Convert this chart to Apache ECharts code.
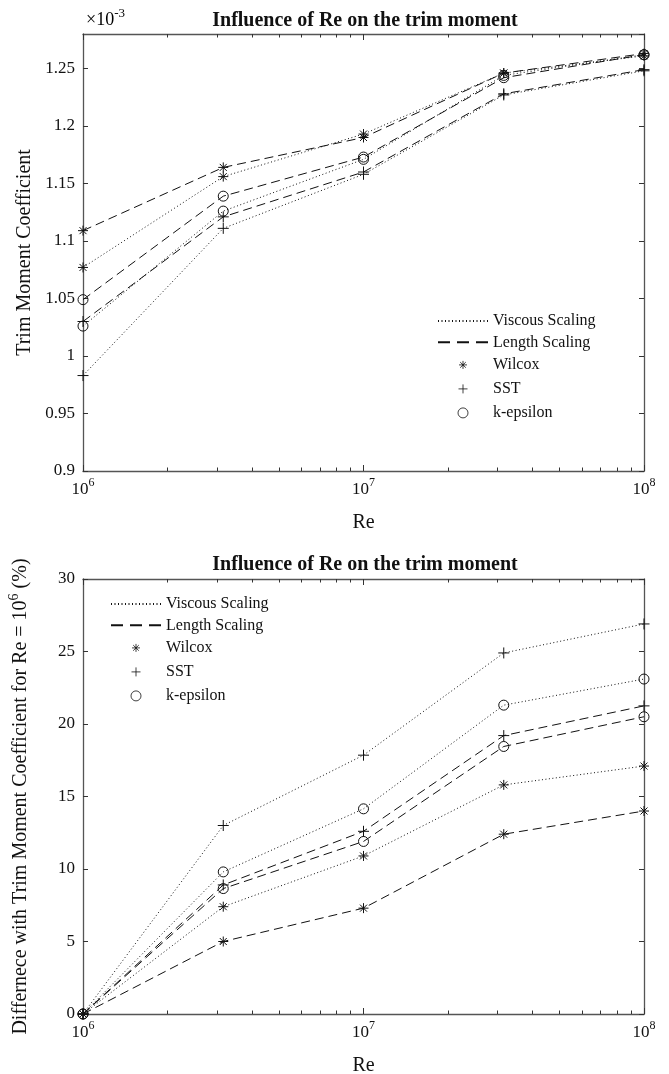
<!DOCTYPE html>
<html>
<head>
<meta charset="utf-8">
<script src="https://cdn.jsdelivr.net/npm/echarts@6/dist/echarts.min.js"></script>
<style>
html,body{margin:0;padding:0;background:#fff;}
#chart{width:669px;height:1074px;}
</style>
</head>
<body>
<div id="chart"></div>
<script>
// ---------- data ----------
const reValues = [1e6, 3.1623e6, 1e7, 3.1623e7, 1e8];
const minorTickValues = [2e6,3e6,4e6,5e6,6e6,7e6,8e6,9e6,2e7,3e7,4e7,5e7,6e7,7e7,8e7,9e7];
const legendNames = ['Viscous Scaling', 'Length Scaling', 'Wilcox', 'SST', 'k-epsilon'];

// Trim moment coefficient (x 1e-3)
const coefViscousWilcox = [1.077, 1.156, 1.193, 1.246, 1.261];
const coefViscousSST    = [0.983, 1.111, 1.158, 1.227, 1.248];
const coefViscousKeps   = [1.026, 1.126, 1.171, 1.244, 1.262];
const coefLengthWilcox  = [1.109, 1.164, 1.190, 1.246, 1.263];
const coefLengthSST     = [1.030, 1.121, 1.160, 1.228, 1.249];
const coefLengthKeps    = [1.049, 1.139, 1.173, 1.242, 1.262];

// Difference w.r.t. Re = 1e6 (%)
const diffViscousWilcox = [0, 7.4, 10.9, 15.8, 17.1];
const diffViscousSST    = [0, 13.0, 17.85, 24.9, 26.9];
const diffViscousKeps   = [0, 9.8, 14.15, 21.3, 23.1];
const diffLengthWilcox  = [0, 5.0, 7.3, 12.4, 14.0];
const diffLengthSST     = [0, 8.9, 12.6, 19.2, 21.25];
const diffLengthKeps    = [0, 8.65, 11.9, 18.45, 20.5];

const topYTicks = {min: 0.9, max: 1.28, interval: 0.05};
const botYTicks = {min: 0, max: 30, interval: 5};

// ---------- styles ----------
const SERIF = "'Liberation Serif', 'Times New Roman', serif";
const INK = '#111';
const AXIS = '#555';
const DOTTED = [1, 2.5];
const DASHED = [9, 5];

const SYM_STAR = 'path://M5,0L5,10M0,5L10,5M1.5,1.5L8.5,8.5M1.5,8.5L8.5,1.5';
const SYM_PLUS = 'path://M5,0L5,10M0,5L10,5';
const SYM_CIRC = 'circle';
// legend versions (padded bounding boxes so they render smaller)
const LEG_STAR = 'path://M0,0M14,14M7,3L7,11M3,7L11,7M4.2,4.2L9.8,9.8M4.2,9.8L9.8,4.2';
const LEG_PLUS = 'path://M0,0M14,14M7,2.5L7,11.5M2.5,7L11.5,7';
const LEG_CIRC = 'path://M0,0M14,14M12,7A5,5 0 1,1 2,7A5,5 0 1,1 12,7Z';

const markerStyle = {color: 'none', borderColor: INK, borderWidth: 1};

function supRich(base, sup) {
  return {
    b: {fontSize: base, fontFamily: SERIF, color: INK, verticalAlign: 'bottom'},
    s: {fontSize: sup, fontFamily: SERIF, color: INK, verticalAlign: 'bottom', padding: [0, 0, Math.round(base * 0.5), 0]}
  };
}

function xAxesFor(gi) {
  const common = {gridIndex: gi, splitLine: {show: false}};
  const line = {show: true, onZero: false, lineStyle: {color: AXIS, width: 1.3}};
  return [
    Object.assign({}, common, {
      type: 'log', logBase: 10, min: 1e6, max: 1e8, position: 'bottom',
      axisLine: line,
      axisTick: {show: true, inside: true, length: 6, lineStyle: {color: '#333'}},
      axisLabel: {
        margin: 6,
        formatter: v => '{b|10}{s|' + Math.round(Math.log10(v)) + '}',
        rich: supRich(17, 12)
      },
      name: 'Re', nameLocation: 'middle', nameGap: 42,
      nameTextStyle: {fontFamily: SERIF, fontSize: 20, color: INK}
    }),
    Object.assign({}, common, {
      type: 'log', logBase: 10, min: 1e6, max: 1e8, position: 'top',
      axisLine: line,
      axisTick: {show: true, inside: true, length: 6, lineStyle: {color: '#333'}},
      axisLabel: {show: false}
    }),
    Object.assign({}, common, {
      type: 'value', min: 6, max: 8, position: 'bottom',
      axisLine: {show: false, onZero: false},
      axisTick: {show: true, inside: true, length: 3.5, lineStyle: {color: '#333'},
        customValues: minorTickValues.map(v => Math.log10(v))},
      axisLabel: {show: false}
    }),
    Object.assign({}, common, {
      type: 'value', min: 6, max: 8, position: 'top',
      axisLine: {show: false, onZero: false},
      axisTick: {show: true, inside: true, length: 3.5, lineStyle: {color: '#333'},
        customValues: minorTickValues.map(v => Math.log10(v))},
      axisLabel: {show: false}
    })
  ];
}

function yAxesFor(gi, t, fmt, name, nameGap, nameRich) {
  const line = {show: true, onZero: false, lineStyle: {color: AXIS, width: 1.3}};
  const tick = {show: true, inside: true, length: 5, lineStyle: {color: '#333'}};
  return [
    {
      type: 'value', gridIndex: gi, position: 'left',
      min: t.min, max: t.max, interval: t.interval,
      axisLine: line, axisTick: tick, splitLine: {show: false},
      axisLabel: {fontFamily: SERIF, fontSize: 17, color: INK, margin: 8, formatter: fmt, showMaxLabel: t.max % t.interval < 1e-9 || Math.abs(t.max % t.interval - t.interval) < 1e-9},
      name: name, nameLocation: 'middle', nameGap: nameGap, nameRotate: 90,
      nameTextStyle: Object.assign({fontFamily: SERIF, fontSize: 20, color: INK}, nameRich ? {rich: nameRich} : {})
    },
    {
      type: 'value', gridIndex: gi, position: 'right',
      min: t.min, max: t.max, interval: t.interval,
      axisLine: line, axisTick: tick, splitLine: {show: false},
      axisLabel: {show: false}
    }
  ];
}

function dataSeries(xi, yi, arr, dash, symbol, size) {
  return {
    type: 'line', xAxisIndex: xi, yAxisIndex: yi,
    data: reValues.map((x, i) => [x, arr[i]]),
    symbol: symbol, symbolSize: size, showSymbol: true, clip: false,
    itemStyle: markerStyle,
    lineStyle: {color: INK, width: 1, type: dash},
    emphasis: {disabled: true}, silent: true, z: 3
  };
}

function legendSeries(xi, yi) {
  return [
    {type: 'line', name: 'Viscous Scaling', xAxisIndex: xi, yAxisIndex: yi, data: [], symbol: 'none', lineStyle: {color: INK, width: 1, type: DOTTED}},
    {type: 'line', name: 'Length Scaling', xAxisIndex: xi, yAxisIndex: yi, data: [], symbol: 'none', lineStyle: {color: INK, width: 1, type: [12, 7]}},
    {type: 'scatter', name: 'Wilcox', xAxisIndex: xi, yAxisIndex: yi, data: [], symbol: LEG_STAR, itemStyle: markerStyle},
    {type: 'scatter', name: 'SST', xAxisIndex: xi, yAxisIndex: yi, data: [], symbol: LEG_PLUS, itemStyle: markerStyle},
    {type: 'scatter', name: 'k-epsilon', xAxisIndex: xi, yAxisIndex: yi, data: [], symbol: LEG_CIRC, itemStyle: markerStyle}
  ];
}

const topFmt = v => String(parseFloat(v.toFixed(2)));
const botFmt = v => String(v);

// line-type legend entries: hide the default symbol on the legend line
const legendData = legendNames.map((n, i) => i < 2 ? {name: n, itemStyle: {opacity: 0}} : {name: n});

const legendCommon = {
  orient: 'vertical', itemWidth: 50, itemHeight: 14, itemGap: 5, padding: 0,
  selectedMode: false,
  textStyle: {fontFamily: SERIF, fontSize: 16, color: INK},
  itemStyle: {color: 'none', borderColor: INK, borderWidth: 1},
  data: legendData
};

const option = {
  animation: false,
  backgroundColor: '#fff',
  title: [
    {text: 'Influence of Re on the trim moment', left: 360, textAlign: 'center', top: 6,
     textStyle: {fontFamily: SERIF, fontSize: 20, fontWeight: 'bold', color: INK}},
    {text: 'Influence of Re on the trim moment', left: 360, textAlign: 'center', top: 550,
     textStyle: {fontFamily: SERIF, fontSize: 20, fontWeight: 'bold', color: INK}}
  ],
  grid: [
    {left: 83, top: 34, width: 561, height: 437, outerBoundsMode: 'none', containLabel: false},
    {left: 83, top: 579, width: 561, height: 435, outerBoundsMode: 'none', containLabel: false}
  ],
  legend: [
    Object.assign({}, legendCommon, {left: 437, top: 313}),
    Object.assign({}, legendCommon, {left: 110, top: 596})
  ],
  graphic: [
    {type: 'text', left: 86, top: 7,
     style: {text: '{b|\u00d710}{s|-3}', rich: supRich(18, 13)}}
  ],
  xAxis: xAxesFor(0).concat(xAxesFor(1)),
  yAxis: yAxesFor(0, topYTicks, topFmt, 'Trim Moment Coefficient', 48)
    .concat(yAxesFor(1, botYTicks, botFmt,
      '{b|Differnece with Trim Moment Coefficient for Re = 10}{s|6}{b| (%)}', 52, supRich(20, 14))),
  series: [
    dataSeries(0, 0, coefViscousWilcox, DOTTED, SYM_STAR, 10),
    dataSeries(0, 0, coefViscousSST, DOTTED, SYM_PLUS, 11),
    dataSeries(0, 0, coefViscousKeps, DOTTED, SYM_CIRC, 10),
    dataSeries(0, 0, coefLengthWilcox, DASHED, SYM_STAR, 10),
    dataSeries(0, 0, coefLengthSST, DASHED, SYM_PLUS, 11),
    dataSeries(0, 0, coefLengthKeps, DASHED, SYM_CIRC, 10),
    dataSeries(4, 2, diffViscousWilcox, DOTTED, SYM_STAR, 10),
    dataSeries(4, 2, diffViscousSST, DOTTED, SYM_PLUS, 11),
    dataSeries(4, 2, diffViscousKeps, DOTTED, SYM_CIRC, 10),
    dataSeries(4, 2, diffLengthWilcox, DASHED, SYM_STAR, 10),
    dataSeries(4, 2, diffLengthSST, DASHED, SYM_PLUS, 11),
    dataSeries(4, 2, diffLengthKeps, DASHED, SYM_CIRC, 10)
  ].concat(legendSeries(0, 0)).concat(legendSeries(4, 2))
};

const chart = echarts.init(document.getElementById('chart'), null, {renderer: 'canvas'});
chart.setOption(option);
</script>
</body>
</html>
